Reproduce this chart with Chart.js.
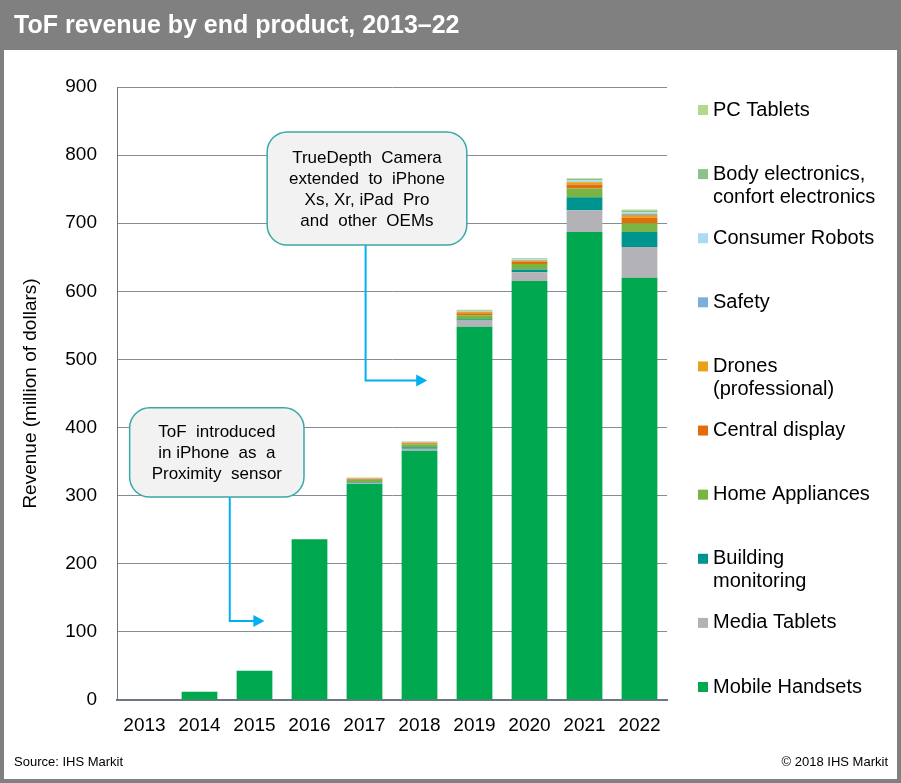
<!DOCTYPE html>
<html lang="en">
<head>
<meta charset="utf-8">
<title>ToF revenue by end product, 2013–22</title>
<script src="https://cdn.jsdelivr.net/npm/chart.js@4.4.1/dist/chart.umd.min.js"></script>
<style>
    body { margin: 0; background: #fff; }
    canvas { display: block; }
</style>
</head>
<body>
<canvas id="tofChart" width="901" height="783"></canvas>
<script>
    // categories and series (million of dollars)
    const years = ['2013', '2014', '2015', '2016', '2017', '2018', '2019', '2020', '2021', '2022'];
    const mobileHandsets     = [0, 12, 43, 236, 317, 366, 548, 615, 687, 620];
    const mediaTablets       = [0, 0, 0, 0, 2, 3, 9, 13, 32, 45];
    const buildingMonitoring = [0, 0, 0, 0, 1, 2, 2, 4, 19, 22];
    const homeAppliances     = [0, 0, 0, 0, 3, 4, 6, 8, 13, 13];
    const centralDisplay     = [0, 0, 0, 0, 1, 2, 3, 3, 6, 8];
    const dronesPro          = [0, 0, 0, 0, 1, 1, 2, 2, 3, 4];
    const safety             = [0, 0, 0, 0, 0.5, 0.5, 0.5, 1, 1, 2];
    const consumerRobots     = [0, 0, 0, 0, 0, 0.5, 0.5, 1, 2, 2];
    const bodyElectronics    = [0, 0, 0, 0, 0.5, 0.5, 1, 1, 2, 2];
    const pcTablets          = [0, 0, 0, 0, 0.5, 0.5, 1, 1, 1, 2];
    const yTicks = [0, 100, 200, 300, 400, 500, 600, 700, 800, 900];

    const FONT = '"Liberation Sans", Arial, sans-serif';

    // callouts: box in data space [x0, x1, yTop, yBottom], arrow [x, yTurn, xTip]
    const callouts = [
        {
            lines: ['TrueDepth  Camera', 'extended  to  iPhone', 'Xs, Xr, iPad  Pro', 'and  other  OEMs'],
            box: [2.23, 5.86, 834, 668],
            arrow: [4.02, 469, 5.14]
        },
        {
            lines: ['ToF  introduced', 'in iPhone  as  a', 'Proximity  sensor'],
            box: [-0.27, 2.90, 429, 298],
            arrow: [1.55, 116, 2.18]
        }
    ];

    let frame = {
        id: 'frame',
        beforeDraw(chart) {
            let ctx = chart.ctx;
            let w = chart.width, h = chart.height;
            ctx.save();
            ctx.fillStyle = '#808080';
            ctx.fillRect(0, 0, w, h);
            ctx.fillStyle = '#ffffff';
            ctx.fillRect(4, 50, w - 8, h - 54);
            ctx.fillStyle = '#ffffff';
            ctx.font = 'bold 25px ' + FONT;
            ctx.textBaseline = 'middle';
            ctx.fillText('ToF revenue by end product, 2013–22', 14, 26);
            ctx.fillStyle = '#000';
            ctx.font = '13px ' + FONT;
            ctx.fillText('Source: IHS Markit', 14, 762);
            ctx.textAlign = 'right';
            ctx.fillText('© 2018 IHS Markit', 888, 762);
            ctx.restore();
        }
    };

    let notes = {
        id: 'notes',
        afterDraw(chart) {
            let ctx = chart.ctx;
            let xs = chart.scales.x, ys = chart.scales.y;
            ctx.save();
            callouts.forEach(c => {
                let x0 = xs.getPixelForValue(c.box[0]), x1 = xs.getPixelForValue(c.box[1]);
                let y0 = ys.getPixelForValue(c.box[2]), y1 = ys.getPixelForValue(c.box[3]);
                let ax = xs.getPixelForValue(c.arrow[0]);
                let ay = ys.getPixelForValue(c.arrow[1]);
                let tip = xs.getPixelForValue(c.arrow[2]);

                // arrow
                ctx.strokeStyle = '#00B0F0';
                ctx.lineWidth = 2;
                ctx.beginPath();
                ctx.moveTo(ax, y1);
                ctx.lineTo(ax, ay);
                ctx.lineTo(tip - 9, ay);
                ctx.stroke();
                ctx.fillStyle = '#00B0F0';
                ctx.beginPath();
                ctx.moveTo(tip, ay);
                ctx.lineTo(tip - 11, ay - 6);
                ctx.lineTo(tip - 11, ay + 6);
                ctx.closePath();
                ctx.fill();

                // box
                ctx.beginPath();
                ctx.roundRect(x0, y0, x1 - x0, y1 - y0, 20);
                ctx.fillStyle = '#F2F2F2';
                ctx.fill();
                ctx.strokeStyle = '#3AA8A8';
                ctx.lineWidth = 1.5;
                ctx.stroke();

                // text
                ctx.fillStyle = '#000';
                ctx.font = '17px ' + FONT;
                ctx.textAlign = 'center';
                ctx.textBaseline = 'middle';
                let cy = (y0 + y1) / 2 + 1;
                let lh = 21;
                c.lines.forEach((t, i) => {
                    ctx.fillText(t, (x0 + x1) / 2, cy + (i - (c.lines.length - 1) / 2) * lh);
                });
            });
            ctx.restore();
        }
    };

    let sideLegend = {
        id: 'sideLegend',
        afterDraw(chart) {
            let ctx = chart.ctx, area = chart.chartArea;
            let items = chart.data.datasets.slice().reverse();
            let first = area.top + 23, last = area.bottom - 13;
            let step = (last - first) / (items.length - 1);
            let lh = 23;
            ctx.save();
            ctx.font = '20px ' + FONT;
            ctx.textBaseline = 'middle';
            ctx.textAlign = 'left';
            items.forEach((ds, i) => {
                let lines = ds.label.split('\n');
                let top = first + i * step;
                ctx.fillStyle = ds.backgroundColor;
                ctx.fillRect(area.right + 31, top - 5, 10, 10);
                ctx.fillStyle = '#000';
                lines.forEach((t, j) => ctx.fillText(t, area.right + 46, top + j * lh));
            });
            ctx.restore();
        }
    };

    let makeSet = (label, data, color) => ({
        label: label,
        data: data,
        backgroundColor: color,
        borderWidth: 0,
        barPercentage: 1,
        categoryPercentage: 0.65
    });

    new Chart(document.getElementById('tofChart'), {
        type: 'bar',
        data: {
            labels: years,
            datasets: [
                makeSet('Mobile Handsets', mobileHandsets, '#00A94F'),
                makeSet('Media Tablets', mediaTablets, '#B2B2B7'),
                makeSet('Building\nmonitoring', buildingMonitoring, '#00948F'),
                makeSet('Home Appliances', homeAppliances, '#7AB441'),
                makeSet('Central display', centralDisplay, '#E46C0A'),
                makeSet('Drones\n(professional)', dronesPro, '#E7A219'),
                makeSet('Safety', safety, '#7BAFD9'),
                makeSet('Consumer Robots', consumerRobots, '#A9DBF2'),
                makeSet('Body electronics,\nconfort electronics', bodyElectronics, '#8DC08A'),
                makeSet('PC Tablets', pcTablets, '#B5D98C')
            ]
        },
        options: {
            responsive: false,
            animation: false,
            layout: { padding: { top: 87, right: 234, left: 0, bottom: 0 } },
            plugins: {
                legend: { display: false },
                tooltip: { enabled: false }
            },
            scales: {
                x: {
                    stacked: true,
                    grid: { display: false },
                    border: { display: true, color: '#6E7681', width: 2 },
                    ticks: { color: '#000', font: { size: 19, family: FONT }, padding: 6, maxRotation: 0 },
                    afterFit: s => { s.height = 83; }
                },
                y: {
                    stacked: true,
                    min: 0,
                    max: 900,
                    afterBuildTicks: s => { s.ticks = yTicks.map(v => ({ value: v })); },
                    grid: { color: '#868C96', drawTicks: false },
                    border: { display: true, color: '#6E7681', width: 1 },
                    ticks: { color: '#000', font: { size: 19, family: FONT }, padding: 20 },
                    title: {
                        display: true,
                        text: 'Revenue (million of dollars)',
                        color: '#000',
                        font: { size: 19, family: FONT },
                        padding: { top: 19, bottom: 0 }
                    },
                    afterFit: s => { s.width = 117; }
                }
            }
        },
        plugins: [frame, notes, sideLegend]
    });
</script>
</body>
</html>
